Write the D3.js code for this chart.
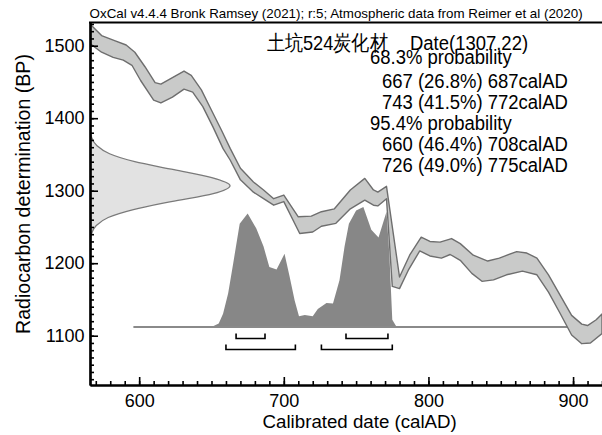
<!DOCTYPE html>
<html>
<head>
<meta charset="utf-8">
<script src="https://cdn.jsdelivr.net/npm/d3@7"></script>
<style>
body { margin: 0; background: #fff; }
text { font-family: "Liberation Sans", Arial, sans-serif; fill: #000; }
</style>
</head>
<body>
<svg id="chart" width="602" height="435"></svg>
<script>
// calibration curve band: [calAD, BP]
var curveUpper = [
  [566,1530],[574,1514],[583,1507],[591,1501],[597,1491],[604,1471],[611,1449],[615,1447],
  [623,1456],[631,1465],[636,1459],[643,1439],[650,1411],[657,1383],[663,1358],[670,1331],
  [679,1312],[686,1301],[693,1289],[700,1294],[710,1264],[719,1265],[726,1271],[735,1275],
  [746,1301],[756,1317],[762,1301],[765,1298],[771,1306],[780,1181],[787,1211],[795,1236],
  [801,1230],[808,1229],[816,1234],[822,1227],[831,1211],[841,1203],[849,1207],[861,1216],
  [868,1214],[875,1207],[883,1184],[891,1156],[899,1128],[906,1116],[910,1114],[916,1122],[920,1130]
];
var curveLower = [
  [566,1503],[574,1491],[582,1484],[589,1480],[595,1473],[601,1452],[610,1425],[615,1421],
  [623,1429],[631,1440],[637,1436],[644,1416],[651,1388],[658,1358],[663,1342],[670,1315],
  [679,1298],[686,1289],[693,1280],[700,1285],[711,1241],[720,1243],[726,1251],[736,1255],
  [746,1275],[756,1287],[762,1280],[765,1279],[771,1289],[775,1168],[780,1165],[786,1190],
  [794,1217],[801,1210],[809,1207],[815,1212],[822,1204],[830,1186],[837,1175],[845,1177],
  [854,1184],[865,1189],[875,1184],[883,1160],[891,1131],[899,1101],[906,1089],[912,1090],[920,1103]
];

// measured date 1307 +/- 22 BP, relative density read from the left profile
var dateBP = [1219,1230,1241,1252,1263,1274,1285,1296,1307,1318,1329,1340,1351,1362,1373,1384,1395];
var dateDensity = [0,0.002,0.011,0.045,0.13,0.31,0.58,0.88,1,0.87,0.6,0.32,0.14,0.05,0.012,0.002,0];

// calibrated probability (relative)
var postYears = [650,655,658,661.5,665,669.5,675,681,686,690,695,700.5,704,707.5,710.5,714.5,720,
  723.5,729.5,734,738.5,742,745,750,755,760.5,765.5,771,773,775,778];
var postProb = [0,0.03,0.11,0.28,0.53,0.86,0.945,0.82,0.67,0.5,0.48,0.61,0.42,0.22,0.09,0.1,0.09,
  0.15,0.2,0.195,0.39,0.67,0.86,0.97,1,0.81,0.745,0.96,0.6,0.06,0];
var postBaseBP = 1112;

// ranges
var range68 = [[667,687],[743,772]];
var range95 = [[660,708],[726,775]];

var xMajor = [600,700,800,900];
var yMajor = [1100,1200,1300,1400,1500];

var titleText = "OxCal v4.4.4 Bronk Ramsey (2021); r:5; Atmospheric data from Reimer et al (2020)";
var sampleLabel = "土坑524炭化材";
var dateLabel = "Date(1307,22)";
var infoLines = [
  {t:"68.3% probability", indent:false},
  {t:"667 (26.8%) 687calAD", indent:true},
  {t:"743 (41.5%) 772calAD", indent:true},
  {t:"95.4% probability", indent:false},
  {t:"660 (46.4%) 708calAD", indent:true},
  {t:"726 (49.0%) 775calAD", indent:true}
];

var svg = d3.select("#chart");
var plotL = 90, plotR = 602, plotT = 22.5, plotB = 385;

var x = d3.scaleLinear().domain([566, 920]).range([plotL, plotR]);
var y = d3.scaleLinear().domain([1032, 1532]).range([plotB, plotT]);
var dens = d3.scaleLinear().domain([0, 1]).range([0, 140]);
var prob = d3.scaleLinear().domain([0, 1]).range([0, 120]);

svg.append("defs").append("clipPath").attr("id", "clip")
  .append("rect").attr("x", plotL).attr("y", plotT).attr("width", plotR - plotL).attr("height", plotB - plotT);

var plot = svg.append("g").attr("clip-path", "url(#clip)");

// date profile on the y axis
var dateArea = d3.area()
  .y(function(d, i) { return y(dateBP[i]); })
  .x0(plotL)
  .x1(function(d) { return plotL + dens(d); })
  .curve(d3.curveMonotoneY);
plot.append("path")
  .attr("d", dateArea(dateDensity))
  .attr("fill", "#e2e2e2")
  .attr("stroke", "#7a7a7a")
  .attr("stroke-width", 1.3);

// posterior
var base = y(postBaseBP);
var postArea = d3.area()
  .x(function(d, i) { return x(postYears[i]); })
  .y0(base)
  .y1(function(d) { return base - prob(d); });
plot.append("path")
  .attr("d", postArea(postProb))
  .attr("fill", "#878787");
plot.append("line")
  .attr("x1", x(596)).attr("x2", x(920))
  .attr("y1", base).attr("y2", base)
  .attr("stroke", "#8a8a8a").attr("stroke-width", 2);

// calibration curve band
var band = curveUpper.concat(curveLower.slice().reverse());
plot.append("path")
  .attr("d", d3.line().x(function(d) { return x(d[0]); }).y(function(d) { return y(d[1]); })(band) + "Z")
  .attr("fill", "#c9cac9")
  .attr("stroke", "#6e6e6e")
  .attr("stroke-width", 1.4)
  .attr("stroke-linejoin", "round");

// ranges brackets
function brackets(list, yy) {
  list.forEach(function(r) {
    var x0 = x(r[0]), x1 = x(r[1]);
    svg.append("path")
      .attr("d", "M" + x0 + "," + (yy - 5) + "V" + yy + "H" + x1 + "V" + (yy - 5))
      .attr("fill", "none").attr("stroke", "#000").attr("stroke-width", 1.6);
  });
}
brackets(range68, base + 11.5);
brackets(range95, base + 22.5);

// axes
svg.append("g").attr("transform", "translate(0," + plotB + ")")
  .call(d3.axisBottom(x).tickValues(xMajor).tickSize(-8).tickSizeOuter(0).tickPadding(9).tickFormat(d3.format("d")));
svg.append("g").attr("transform", "translate(0," + plotB + ")")
  .call(d3.axisBottom(x).tickValues(d3.range(570, 921, 10)).tickSize(-4).tickSizeOuter(0).tickFormat(""));
svg.append("g").attr("transform", "translate(" + plotL + ",0)")
  .call(d3.axisLeft(y).tickValues(yMajor).tickSize(-8).tickSizeOuter(0).tickPadding(5.5).tickFormat(d3.format("d")));
svg.append("g").attr("transform", "translate(" + plotL + ",0)")
  .call(d3.axisLeft(y).tickValues(d3.range(1040, 1531, 10)).tickSize(-4).tickSizeOuter(0).tickFormat(""));

svg.selectAll(".domain").attr("stroke", "#000").attr("stroke-width", 2.2);
svg.selectAll(".tick line").attr("stroke", "#000").attr("stroke-width", 1.6);
svg.selectAll(".tick text").attr("font-size", "18px").attr("font-family", "Liberation Sans, Arial, sans-serif").attr("fill", "#000");

// top frame line
svg.append("line").attr("x1", plotL - 1).attr("x2", plotR).attr("y1", plotT).attr("y2", plotT)
  .attr("stroke", "#000").attr("stroke-width", 2.2);

// axis titles
svg.append("text")
  .attr("x", 359.7).attr("y", 428)
  .attr("text-anchor", "middle").attr("font-size", "18.7px")
  .text("Calibrated date (calAD)");
svg.append("text")
  .attr("transform", "translate(29.5,194) rotate(-90)")
  .attr("text-anchor", "middle").attr("font-size", "19.6px")
  .text("Radiocarbon determination (BP)");

// header
svg.append("text")
  .attr("x", 89.6).attr("y", 17.5)
  .attr("font-size", "13px")
  .attr("textLength", 493).attr("lengthAdjust", "spacingAndGlyphs")
  .text(titleText);

svg.append("text")
  .attr("x", 266.7).attr("y", 50)
  .attr("font-family", "'Noto Sans CJK JP', sans-serif")
  .attr("font-size", "21px")
  .attr("textLength", 121).attr("lengthAdjust", "spacingAndGlyphs")
  .text(sampleLabel);

function squeezed(txt, xx, yy) {
  svg.append("text")
    .attr("transform", "translate(" + xx + "," + yy + ") scale(0.88,1)")
    .attr("font-size", "21px")
    .text(txt);
}
squeezed(dateLabel, 410, 50);
var lineY = [64.3, 87.5, 108.8, 130, 151, 172];
infoLines.forEach(function(l, i) {
  squeezed(l.t, l.indent ? 382 : 370, lineY[i]);
});
</script>
</body>
</html>
